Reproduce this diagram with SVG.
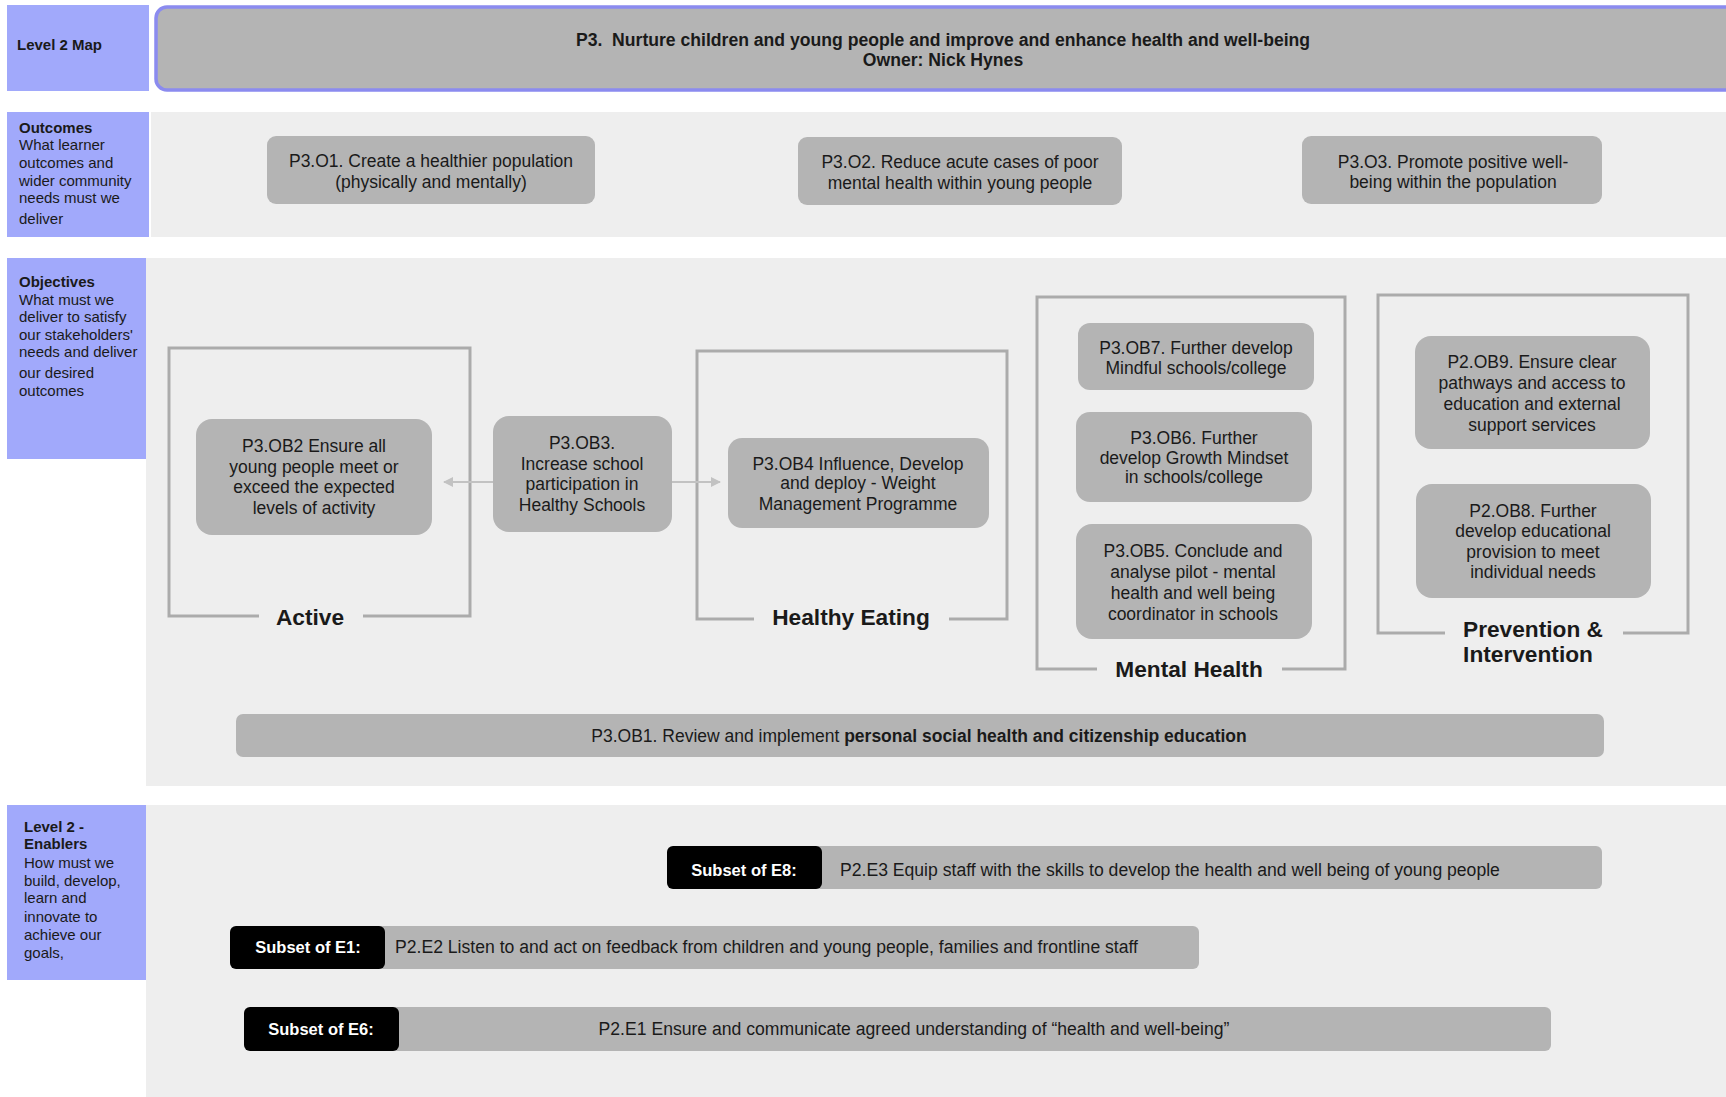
<svg xmlns="http://www.w3.org/2000/svg" width="1726" height="1097" viewBox="0 0 1726 1097">
<style>
text{font-family:"Liberation Sans",Arial,sans-serif;fill:#1a1a1a}
.lbl{fill:#a1a9fb}
.band{fill:#eeeeee}
.box{fill:#b4b4b4}
.bt{font-size:17.5px;text-anchor:middle}
.st{font-size:15px}
.stb{font-size:15px;font-weight:bold}
.frame{fill:none;stroke:#ababab;stroke-width:3}
.fl{font-size:22.7px;font-weight:bold;text-anchor:middle}
.blk{fill:#000}
.wt{fill:#fff;font-size:16.5px;font-weight:bold;text-anchor:middle}
.et{font-size:17.6px}
.conn{stroke:#c2c2c2;stroke-width:2;fill:none}
</style>
<defs>
<marker id="ah" viewBox="0 0 10 10" refX="9" refY="5" markerWidth="5" markerHeight="5" orient="auto">
<path d="M0,0 L10,5 L0,10 z" fill="#c2c2c2"/>
</marker>
</defs>
<rect width="1726" height="1097" fill="#ffffff"/>

<!-- Row labels and bands -->
<g id="row-level2map">
<rect class="lbl" x="7" y="5" width="142" height="86"/>
<text class="stb" x="17" y="50">Level 2 Map</text>
</g>
<g id="title">
<rect x="156" y="7" width="1590" height="83" rx="11" fill="#b4b4b4" stroke="#8b8bef" stroke-width="3.5"/>
<text x="943" y="46" font-size="17.6" font-weight="bold" text-anchor="middle">P3.&#160; Nurture children and young people and improve and enhance health and well-being</text>
<text x="943" y="65.5" font-size="17.6" font-weight="bold" text-anchor="middle">Owner: Nick Hynes</text>
</g>

<g id="row-outcomes">
<rect class="lbl" x="7" y="112" width="142" height="125"/>
<rect class="band" x="151" y="112" width="1575" height="125"/>
<text class="stb" x="19" y="133">Outcomes</text>
<text class="st" x="19" y="150">What learner</text>
<text class="st" x="19" y="168">outcomes and</text>
<text class="st" x="19" y="185.5">wider community</text>
<text class="st" x="19" y="203">needs must we</text>
<text class="st" x="19" y="224">deliver</text>
</g>

<g id="row-objectives">
<rect class="lbl" x="7" y="258" width="142" height="201"/>
<rect class="band" x="146" y="258" width="1580" height="528"/>
<text class="stb" x="19" y="287">Objectives</text>
<text class="st" x="19" y="304.5">What must we</text>
<text class="st" x="19" y="322">deliver to satisfy</text>
<text class="st" x="19" y="339.5">our stakeholders'</text>
<text class="st" x="19" y="357">needs and deliver</text>
<text class="st" x="19" y="378">our desired</text>
<text class="st" x="19" y="396">outcomes</text>
</g>

<g id="row-enablers">
<rect class="lbl" x="7" y="805" width="139" height="175"/>
<rect class="band" x="146" y="805" width="1580" height="292"/>
<text class="stb" x="24" y="832">Level 2 -</text>
<text class="stb" x="24" y="849">Enablers</text>
<text class="st" x="24" y="868">How must we</text>
<text class="st" x="24" y="885.5">build, develop,</text>
<text class="st" x="24" y="903">learn and</text>
<text class="st" x="24" y="922">innovate to</text>
<text class="st" x="24" y="939.5">achieve our</text>
<text class="st" x="24" y="958">goals,</text>
</g>

<!-- Outcomes -->
<g id="P3O1">
<rect class="box" x="267" y="136" width="328" height="68" rx="9"/>
<text class="bt" x="431" y="167">P3.O1. Create a healthier population</text>
<text class="bt" x="431" y="188">(physically and mentally)</text>
</g>
<g id="P3O2">
<rect class="box" x="798" y="137" width="324" height="68" rx="9"/>
<text class="bt" x="960" y="168">P3.O2. Reduce acute cases of poor</text>
<text class="bt" x="960" y="189">mental health within young people</text>
</g>
<g id="P3O3">
<rect class="box" x="1302" y="136" width="300" height="68" rx="9"/>
<text class="bt" x="1453" y="168">P3.O3. Promote positive well-</text>
<text class="bt" x="1453" y="188">being within the population</text>
</g>

<!-- Frames -->
<g id="frame-active">
<path class="frame" d="M259,616 H169 V348 H470 V616 H363"/>
<text class="fl" x="310" y="624.5">Active</text>
</g>
<g id="frame-healthy-eating">
<path class="frame" d="M754,619 H697 V351 H1007 V619 H949"/>
<text class="fl" x="851" y="624.5">Healthy Eating</text>
</g>
<g id="frame-mental-health">
<path class="frame" d="M1097,669 H1037 V297 H1345 V669 H1282"/>
<text class="fl" x="1189" y="677">Mental Health</text>
</g>
<g id="frame-prevention">
<path class="frame" d="M1445,633 H1378 V295 H1688 V633 H1623"/>
<text class="fl" x="1533" y="636.5">Prevention &amp;</text>
<text class="fl" x="1528" y="662">Intervention</text>
</g>

<!-- Objectives nodes -->
<g id="P3OB2">
<rect class="box" x="196" y="419" width="236" height="116" rx="16"/>
<text class="bt" x="314" y="452">P3.OB2 Ensure all</text>
<text class="bt" x="314" y="473">young people meet or</text>
<text class="bt" x="314" y="493">exceed the expected</text>
<text class="bt" x="314" y="514">levels of activity</text>
</g>
<g id="P3OB3">
<rect class="box" x="493" y="416" width="179" height="116" rx="16"/>
<text class="bt" x="582" y="449">P3.OB3.</text>
<text class="bt" x="582" y="469.5">Increase school</text>
<text class="bt" x="582" y="490">participation in</text>
<text class="bt" x="582" y="511">Healthy Schools</text>
</g>
<g id="P3OB4">
<rect class="box" x="728" y="438" width="261" height="90" rx="14"/>
<text class="bt" x="858" y="469.5">P3.OB4 Influence, Develop</text>
<text class="bt" x="858" y="489">and deploy - Weight</text>
<text class="bt" x="858" y="510">Management Programme</text>
</g>
<g id="P3OB7">
<rect class="box" x="1078" y="323" width="236" height="67" rx="12"/>
<text class="bt" x="1196" y="354">P3.OB7. Further develop</text>
<text class="bt" x="1196" y="374">Mindful schools/college</text>
</g>
<g id="P3OB6">
<rect class="box" x="1076" y="412" width="236" height="90" rx="14"/>
<text class="bt" x="1194" y="444">P3.OB6. Further</text>
<text class="bt" x="1194" y="464">develop Growth Mindset</text>
<text class="bt" x="1194" y="483">in schools/college</text>
</g>
<g id="P3OB5">
<rect class="box" x="1076" y="524" width="236" height="115" rx="16"/>
<text class="bt" x="1193" y="557">P3.OB5. Conclude and</text>
<text class="bt" x="1193" y="578">analyse pilot - mental</text>
<text class="bt" x="1193" y="599">health and well being</text>
<text class="bt" x="1193" y="620">coordinator in schools</text>
</g>
<g id="P2OB9">
<rect class="box" x="1415" y="336" width="235" height="113" rx="16"/>
<text class="bt" x="1532" y="368">P2.OB9. Ensure clear</text>
<text class="bt" x="1532" y="389">pathways and access to</text>
<text class="bt" x="1532" y="410">education and external</text>
<text class="bt" x="1532" y="431">support services</text>
</g>
<g id="P2OB8">
<rect class="box" x="1416" y="484" width="235" height="114" rx="16"/>
<text class="bt" x="1533" y="517">P2.OB8. Further</text>
<text class="bt" x="1533" y="537">develop educational</text>
<text class="bt" x="1533" y="557.5">provision to meet</text>
<text class="bt" x="1533" y="578">individual needs</text>
</g>
<g id="P3OB1">
<rect class="box" x="236" y="714" width="1368" height="43" rx="7"/>
<text class="bt" x="919" y="742" font-size="17.1">P3.OB1. Review and implement <tspan font-weight="bold">personal social health and citizenship education</tspan></text>
</g>

<!-- Enablers -->
<g id="P2E3">
<rect class="box" x="800" y="846" width="802" height="43" rx="6"/>
<rect class="blk" x="667" y="846" width="155" height="43" rx="6"/>
<text class="wt" x="744" y="875.5">Subset of E8:</text>
<text class="et" x="840" y="875.5">P2.E3 Equip staff with the skills to develop the health and well being of young people</text>
</g>
<g id="P2E2">
<rect class="box" x="370" y="926" width="829" height="43" rx="6"/>
<rect class="blk" x="230" y="926" width="155" height="43" rx="6"/>
<text class="wt" x="308" y="953">Subset of E1:</text>
<text class="et" x="395" y="953">P2.E2 Listen to and act on feedback from children and young people, families and frontline staff</text>
</g>
<g id="P2E1">
<rect class="box" x="380" y="1007" width="1171" height="44" rx="6"/>
<rect class="blk" x="244" y="1007" width="155" height="44" rx="6"/>
<text class="wt" x="321" y="1035">Subset of E6:</text>
<text class="et" x="914" y="1035" text-anchor="middle">P2.E1 Ensure and communicate agreed understanding of “health and well-being”</text>
</g>

<!-- Connectors -->
<g id="connectors">
<line class="conn" x1="493" y1="482" x2="444" y2="482" marker-end="url(#ah)"/>
<line class="conn" x1="672" y1="482" x2="720" y2="482" marker-end="url(#ah)"/>
</g>
</svg>
